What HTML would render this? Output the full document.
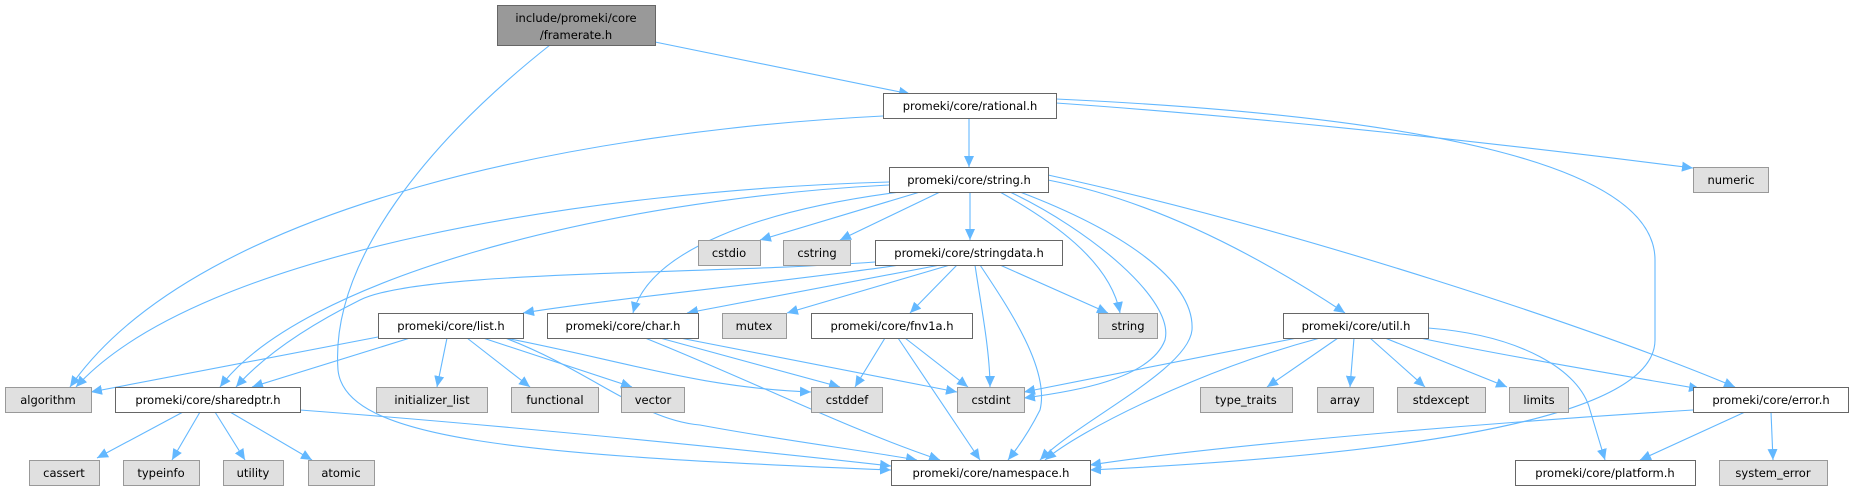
<!DOCTYPE html>
<html><head><meta charset="utf-8"><style>
html,body{margin:0;padding:0;background:#fff;}
svg{display:block;}
text{font-family:"DejaVu Sans","Liberation Sans",sans-serif;font-size:11.5px;fill:#000;}
.e{fill:none;stroke:#63b8ff;stroke-width:1.1;marker-end:url(#a);}
.w{fill:#fff;stroke:#666;stroke-width:1;}
.g{fill:#e0e0e0;stroke:#999;stroke-width:1;}
.m{fill:#999;stroke:#666;stroke-width:1;}
</style></head><body>
<svg width="1853" height="491" viewBox="0 0 1853 491" xmlns="http://www.w3.org/2000/svg">
<defs><marker id="a" markerUnits="userSpaceOnUse" markerWidth="12" markerHeight="10" refX="11" refY="5" orient="auto"><path d="M0,0 L11,5 L0,10 z" fill="#63b8ff"/></marker></defs>
<g>
<path class="e" d="M655,42 L910,94"/>
<path class="e" d="M550,45 C430,140 330,260 338,370 C345,440 520,455 891,470"/>
<path class="e" d="M969,119 L969,167"/>
<path class="e" d="M883,116 C600,130 200,200 70,387"/>
<path class="e" d="M1056,103 C1300,120 1550,150 1693,168"/>
<path class="e" d="M1056,99 C1400,115 1655,160 1655,260 L1655,340 C1655,420 1400,455 1090,470"/>
<path class="e" d="M889,182 C600,190 200,250 76,387"/>
<path class="e" d="M889,185 C600,200 300,280 220,387"/>
<path class="e" d="M900,192 C760,210 650,250 633,313"/>
<path class="e" d="M920,192 L760,240"/>
<path class="e" d="M940,192 L840,240"/>
<path class="e" d="M970,192 L970,240"/>
<path class="e" d="M1000,192 C1050,220 1110,260 1120,313"/>
<path class="e" d="M1010,192 C1090,230 1175,300 1165,340 C1150,380 1070,392 1024,398"/>
<path class="e" d="M1020,192 C1120,230 1195,280 1192,330 C1188,370 1080,420 1040,460"/>
<path class="e" d="M1048,180 C1150,200 1250,250 1345,313"/>
<path class="e" d="M1048,175 C1300,230 1600,330 1735,387"/>
<path class="e" d="M900,265 C800,280 600,300 523,313"/>
<path class="e" d="M875,262 C700,275 420,270 360,300 C300,330 260,360 236,387"/>
<path class="e" d="M940,265 L687,313"/>
<path class="e" d="M950,265 L787,313"/>
<path class="e" d="M957,265 L910,313"/>
<path class="e" d="M1000,265 L1108,313"/>
<path class="e" d="M975,265 C980,300 990,350 990,387"/>
<path class="e" d="M980,265 C1010,310 1050,370 1040,410 C1030,430 1020,445 1008,460"/>
<path class="e" d="M378,337 L91,392"/>
<path class="e" d="M410,338 L252,387"/>
<path class="e" d="M447,338 L437,387"/>
<path class="e" d="M467,338 L530,387"/>
<path class="e" d="M483,338 L632,387"/>
<path class="e" d="M505,338 C620,360 700,388 811,392"/>
<path class="e" d="M505,338 C590,370 640,420 700,425 C780,440 860,450 917,460"/>
<path class="e" d="M660,338 L840,387"/>
<path class="e" d="M680,338 L957,392"/>
<path class="e" d="M645,338 C750,380 850,430 940,460"/>
<path class="e" d="M885,338 L855,387"/>
<path class="e" d="M905,338 L968,387"/>
<path class="e" d="M898,338 L980,460"/>
<path class="e" d="M1297,338 L1024,392"/>
<path class="e" d="M1320,338 C1200,370 1080,430 1045,460"/>
<path class="e" d="M1338,338 L1267,387"/>
<path class="e" d="M1354,338 L1350,387"/>
<path class="e" d="M1370,338 L1425,387"/>
<path class="e" d="M1385,338 L1507,387"/>
<path class="e" d="M1420,338 C1500,355 1620,375 1700,389"/>
<path class="e" d="M1428,328 C1520,335 1580,370 1590,410 L1605,460"/>
<path class="e" d="M1693,410 C1450,425 1200,448 1090,465"/>
<path class="e" d="M1745,412 L1640,460"/>
<path class="e" d="M1771,412 L1773,460"/>
<path class="e" d="M183,412 L97,458"/>
<path class="e" d="M200,412 L172,460"/>
<path class="e" d="M215,412 L245,460"/>
<path class="e" d="M230,412 L312,460"/>
<path class="e" d="M300,410 C500,425 750,450 891,466"/>
</g>
<g text-anchor="middle">
<rect class="m" x="497.5" y="5.5" width="158" height="40"/><text x="576" y="22">include/promeki/core</text><text x="576" y="39">/framerate.h</text>
<rect class="w" x="883.5" y="93.5" width="173" height="25"/><text x="970" y="110">promeki/core/rational.h</text>
<rect class="g" x="1693.5" y="167.5" width="75" height="25"/><text x="1731" y="184">numeric</text>
<rect class="w" x="889.5" y="167.5" width="159" height="25"/><text x="969" y="184">promeki/core/string.h</text>
<rect class="g" x="698.5" y="240.5" width="62" height="25"/><text x="729" y="257">cstdio</text>
<rect class="g" x="783.5" y="240.5" width="67" height="25"/><text x="817" y="257">cstring</text>
<rect class="w" x="875.5" y="240.5" width="187" height="25"/><text x="969" y="257">promeki/core/stringdata.h</text>
<rect class="w" x="378.5" y="313.5" width="145" height="25"/><text x="451" y="330">promeki/core/list.h</text>
<rect class="w" x="547.5" y="313.5" width="151" height="25"/><text x="623" y="330">promeki/core/char.h</text>
<rect class="g" x="722.5" y="313.5" width="64" height="25"/><text x="754" y="330">mutex</text>
<rect class="w" x="811.5" y="313.5" width="161" height="25"/><text x="892" y="330">promeki/core/fnv1a.h</text>
<rect class="g" x="1098.5" y="313.5" width="59" height="25"/><text x="1128" y="330">string</text>
<rect class="w" x="1283.5" y="313.5" width="145" height="25"/><text x="1356" y="330">promeki/core/util.h</text>
<rect class="g" x="5.5" y="387.5" width="86" height="25"/><text x="48" y="404">algorithm</text>
<rect class="w" x="115.5" y="387.5" width="185" height="25"/><text x="208" y="404">promeki/core/sharedptr.h</text>
<rect class="g" x="376.5" y="387.5" width="111" height="25"/><text x="432" y="404">initializer_list</text>
<rect class="g" x="511.5" y="387.5" width="87" height="25"/><text x="555" y="404">functional</text>
<rect class="g" x="621.5" y="387.5" width="63" height="25"/><text x="653" y="404">vector</text>
<rect class="g" x="811.5" y="387.5" width="71" height="25"/><text x="847" y="404">cstddef</text>
<rect class="g" x="957.5" y="387.5" width="67" height="25"/><text x="991" y="404">cstdint</text>
<rect class="g" x="1200.5" y="387.5" width="92" height="25"/><text x="1246" y="404">type_traits</text>
<rect class="g" x="1317.5" y="387.5" width="56" height="25"/><text x="1345" y="404">array</text>
<rect class="g" x="1397.5" y="387.5" width="88" height="25"/><text x="1441" y="404">stdexcept</text>
<rect class="g" x="1509.5" y="387.5" width="59" height="25"/><text x="1539" y="404">limits</text>
<rect class="w" x="1693.5" y="387.5" width="155" height="25"/><text x="1771" y="404">promeki/core/error.h</text>
<rect class="g" x="29.5" y="460.5" width="70" height="25"/><text x="64" y="477">cassert</text>
<rect class="g" x="123.5" y="460.5" width="76" height="25"/><text x="161" y="477">typeinfo</text>
<rect class="g" x="223.5" y="460.5" width="60" height="25"/><text x="253" y="477">utility</text>
<rect class="g" x="308.5" y="460.5" width="66" height="25"/><text x="341" y="477">atomic</text>
<rect class="w" x="891.5" y="460.5" width="199" height="25"/><text x="991" y="477">promeki/core/namespace.h</text>
<rect class="w" x="1515.5" y="460.5" width="180" height="25"/><text x="1605" y="477">promeki/core/platform.h</text>
<rect class="g" x="1719.5" y="460.5" width="108" height="25"/><text x="1773" y="477">system_error</text>
</g>
</svg>
</body></html>
